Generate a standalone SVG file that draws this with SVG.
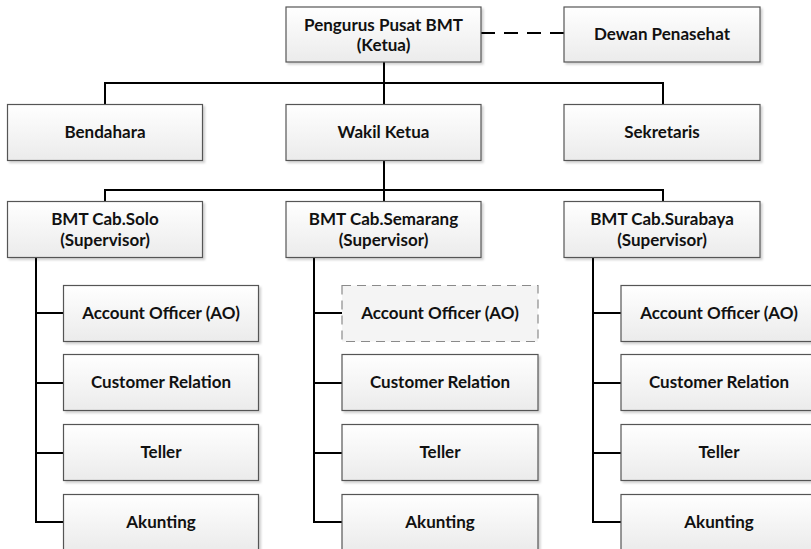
<svg xmlns="http://www.w3.org/2000/svg" width="811" height="549" viewBox="0 0 811 549">
  <defs>
    <linearGradient id="boxFill" x1="0" y1="0" x2="0" y2="1">
      <stop offset="0" stop-color="#ffffff"/>
      <stop offset="1" stop-color="#ebebeb"/>
    </linearGradient>
    <filter id="shadow" x="-5%" y="-10%" width="115%" height="130%">
      <feDropShadow dx="2" dy="2" stdDeviation="1" flood-color="#000" flood-opacity="0.18"/>
    </filter>
    <style>
      .box { fill: url(#boxFill); stroke: #555555; stroke-width: 1.2; filter: url(#shadow); }
      .box.dashed { stroke: #8a8a8a; stroke-dasharray: 9 6; fill: #f4f4f4; filter: none; }
      .label { font-family: Lato, "Liberation Sans", sans-serif; font-weight: bold; font-size: 17px; fill: #111; text-anchor: middle; }
      .conn { fill: none; stroke: #000; stroke-width: 2; }
      .conn.dash { stroke-dasharray: 14 9; }
    </style>
  </defs>
  <rect width="811" height="549" fill="#ffffff"/>

  <!-- connectors -->
  <g id="connectors">
    <path class="conn dash" d="M481 33 H564"/>
    <path class="conn" d="M384 62 V105"/>
    <path class="conn" d="M105 105 V83 H663 V105"/>
    <path class="conn" d="M384 160 V202"/>
    <path class="conn" d="M105 202 V190 H663 V202"/>
    <!-- Solo branch -->
    <path class="conn" d="M36 257 V522 H63 M36 313 H63 M36 383 H63 M36 453 H63"/>
    <!-- Semarang branch -->
    <path class="conn" d="M314 257 V522 H342 M314 313 H342 M314 383 H342 M314 453 H342"/>
    <!-- Surabaya branch -->
    <path class="conn" d="M593 257 V522 H621 M593 313 H621 M593 383 H621 M593 453 H621"/>
  </g>

  <!-- top level -->
  <g id="ketua">
    <rect class="box" x="286" y="7" width="195" height="55"/>
    <text class="label" x="383.5" y="31">Pengurus Pusat BMT</text>
    <text class="label" x="383.5" y="51">(Ketua)</text>
  </g>
  <g id="dewan">
    <rect class="box" x="564" y="7" width="196" height="55"/>
    <text class="label" x="662" y="40">Dewan Penasehat</text>
  </g>

  <!-- second level -->
  <g id="bendahara">
    <rect class="box" x="7.5" y="104.5" width="195" height="56"/>
    <text class="label" x="105" y="138">Bendahara</text>
  </g>
  <g id="wakil">
    <rect class="box" x="286" y="104.5" width="195" height="56"/>
    <text class="label" x="383.5" y="138">Wakil Ketua</text>
  </g>
  <g id="sekretaris">
    <rect class="box" x="564" y="104.5" width="196" height="56"/>
    <text class="label" x="662" y="138">Sekretaris</text>
  </g>

  <!-- branches -->
  <g id="solo">
    <rect class="box" x="7.5" y="201.5" width="195" height="56"/>
    <text class="label" x="105" y="225">BMT Cab.Solo</text>
    <text class="label" x="105" y="246">(Supervisor)</text>
  </g>
  <g id="semarang">
    <rect class="box" x="286" y="201.5" width="195" height="56"/>
    <text class="label" x="383.5" y="225">BMT Cab.Semarang</text>
    <text class="label" x="383.5" y="246">(Supervisor)</text>
  </g>
  <g id="surabaya">
    <rect class="box" x="564" y="201.5" width="196" height="56"/>
    <text class="label" x="662" y="225">BMT Cab.Surabaya</text>
    <text class="label" x="662" y="246">(Supervisor)</text>
  </g>

  <!-- Solo staff -->
  <g id="solo-ao">
    <rect class="box" x="63.5" y="285.5" width="195" height="56"/>
    <text class="label" x="161" y="319">Account Officer (AO)</text>
  </g>
  <g id="solo-cr">
    <rect class="box" x="63.5" y="354.5" width="195" height="56"/>
    <text class="label" x="161" y="388">Customer Relation</text>
  </g>
  <g id="solo-teller">
    <rect class="box" x="63.5" y="424.5" width="195" height="56"/>
    <text class="label" x="161" y="458">Teller</text>
  </g>
  <g id="solo-akunting">
    <rect class="box" x="63.5" y="494.5" width="195" height="56"/>
    <text class="label" x="161" y="528">Akunting</text>
  </g>

  <!-- Semarang staff -->
  <g id="semarang-ao">
    <rect class="box dashed" x="342" y="285.5" width="196" height="56"/>
    <text class="label" x="440" y="319">Account Officer (AO)</text>
  </g>
  <g id="semarang-cr">
    <rect class="box" x="342" y="354.5" width="196" height="56"/>
    <text class="label" x="440" y="388">Customer Relation</text>
  </g>
  <g id="semarang-teller">
    <rect class="box" x="342" y="424.5" width="196" height="56"/>
    <text class="label" x="440" y="458">Teller</text>
  </g>
  <g id="semarang-akunting">
    <rect class="box" x="342" y="494.5" width="196" height="56"/>
    <text class="label" x="440" y="528">Akunting</text>
  </g>

  <!-- Surabaya staff -->
  <g id="surabaya-ao">
    <rect class="box" x="621" y="285.5" width="196" height="56"/>
    <text class="label" x="719" y="319">Account Officer (AO)</text>
  </g>
  <g id="surabaya-cr">
    <rect class="box" x="621" y="354.5" width="196" height="56"/>
    <text class="label" x="719" y="388">Customer Relation</text>
  </g>
  <g id="surabaya-teller">
    <rect class="box" x="621" y="424.5" width="196" height="56"/>
    <text class="label" x="719" y="458">Teller</text>
  </g>
  <g id="surabaya-akunting">
    <rect class="box" x="621" y="494.5" width="196" height="56"/>
    <text class="label" x="719" y="528">Akunting</text>
  </g>
</svg>
